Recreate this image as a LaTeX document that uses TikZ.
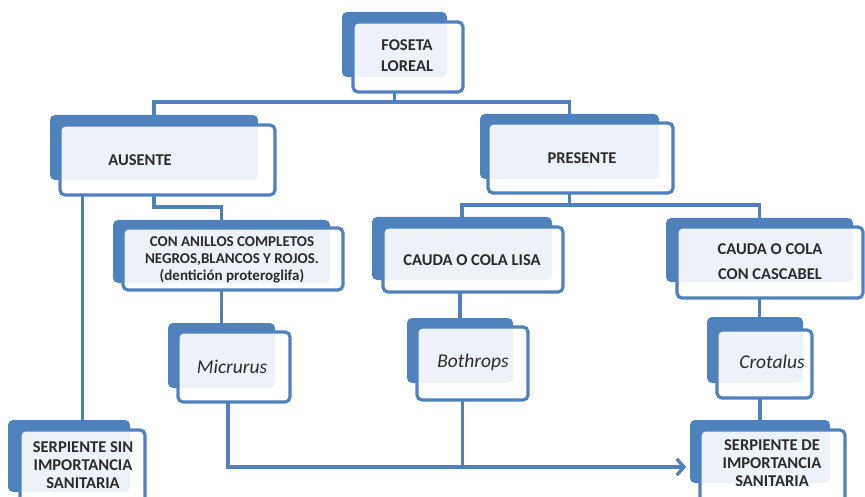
\documentclass[tikz,border=0pt]{standalone}
\usepackage{fontspec}
\setmainfont{Carlito}
\usetikzlibrary{arrows.meta,calc}
\definecolor{ofblue}{HTML}{4F81BD}
\definecolor{txtc}{HTML}{2B2B2B}
\tikzset{
 backbox/.style={fill=ofblue, rounded corners=5pt, inner sep=0pt, outer sep=0pt, anchor=north west},
 frontbox/.style={draw=ofblue, line width=3.2pt, fill=white, fill opacity=0.9, rounded corners=5pt, inner sep=0pt, outer sep=0pt, anchor=north west},
 lbl/.style={text=txtc, font=\fontsize{16.5}{18}\selectfont\bfseries, align=center, inner sep=0pt},
 itlbl/.style={text=txtc, font=\fontsize{19.5}{22}\selectfont\itshape, align=center, inner sep=0pt},
 conn/.style={draw=ofblue, line width=3.2pt},
 shadowconn/.style={draw=black!35, line width=3.2pt},
}
\newcommand{\boxpair}[9]{%
 \node[backbox, minimum width={#4pt-#2pt}, minimum height={#5pt-#3pt}] (#1B) at (#2,#3) {};
 \node[frontbox, minimum width={#8pt-#6pt}, minimum height={#9pt-#7pt}] (#1) at (#6,#7) {};
}
\begin{document}
\begin{tikzpicture}[x=1pt,y=-1pt]
\useasboundingbox (0,0) rectangle (865,497);
\clip (0,0) rectangle (865,497);
\boxpair{foseta}{342}{12}{447}{77}{353}{22}{463}{92}
\boxpair{ausente}{50}{115}{258}{180}{60}{125}{275}{195}
\boxpair{presente}{480}{114}{659}{179}{488}{123}{673}{193}
\boxpair{anillos}{113}{220}{330}{283}{123}{228}{343}{290}
\boxpair{lisa}{372}{217}{552}{280}{383}{227}{563}{292}
\boxpair{casc}{666}{218}{853}{282}{677}{227}{863}{298}
\boxpair{micr}{168}{323}{275}{388}{178}{332}{290}{402}
\boxpair{both}{407}{318}{513}{383}{417}{327}{528}{400}
\boxpair{crot}{707}{317}{803}{383}{717}{330}{812}{398}
\boxpair{sin}{8}{420}{130}{492}{20}{430}{145}{510}
\boxpair{de}{690}{420}{830}{483}{700}{430}{845}{510}

\node[lbl, font=\fontsize{16.5}{21}\selectfont\bfseries] (tfoseta) at (407,56) {FOSETA\\LOREAL};
\node[lbl] (tausente) at (140,160) {AUSENTE};
\node[lbl] (tpresente) at (582,158) {PRESENTE};
\node[lbl, font=\fontsize{15}{17}\selectfont\bfseries] (tanillos) at (232,260) {CON ANILLOS COMPLETOS\\NEGROS,BLANCOS Y ROJOS.\\(dentición proteroglifa)};
\node[lbl] (tlisa) at (472,260) {CAUDA O COLA LISA};
\node[lbl, font=\fontsize{16.5}{25}\selectfont\bfseries] (tcasc) at (770,262) {CAUDA O COLA\\CON CASCABEL};
\node[itlbl] (tmicr) at (232,367) {Micrurus};
\node[itlbl] (tboth) at (473,362) {Bothrops};
\node[itlbl] (tcrot) at (772,362) {Crotalus};
\node[lbl] (tsin) at (83,465) {SERPIENTE SIN\\IMPORTANCIA\\SANITARIA};
\node[lbl] (tde) at (772,463) {SERPIENTE DE\\IMPORTANCIA\\SANITARIA};

\draw[conn] (foseta.south -| fosetaB.center) -- ++(0,10) -| (ausenteB.north);
\draw[conn] (foseta.south -| fosetaB.center) -- ++(0,10) -| (presenteB.north);
\draw[conn] (ausente.south -| ausenteB.center) -- ++(0,12) -| (anillosB.north);
\draw[conn] (ausente.south -| sin.north) -- (sinB.north -| sin.north);
\draw[conn] (presente.south -| presenteB.center) -- ++(0,12) -| (lisaB.north);
\draw[conn] (presente.south -| presenteB.center) -- ++(0,12) -| (cascB.north);
\draw[conn] (anillos.south -| micrB.center) -- (micrB.north);
\draw[conn] (lisa.south -| bothB.center) -- (bothB.north);
\draw[conn] (casc.south -| cascB.center) -- (crotB.north -| cascB.center);
\draw[conn] (crot.south -| deB.center) -- (deB.north);

\coordinate (tip) at (686,467);
\coordinate (ms) at ([xshift=-6pt]micr.south);
\coordinate (bs) at ([xshift=-10pt]both.south);
\begin{scope}[xshift=1pt, yshift=-2pt]
\draw[shadowconn, -{Straight Barb[length=7pt,width=16pt]}] (ms |- tip) -- (tip);
\end{scope}
\draw[conn, -{Straight Barb[length=7pt,width=16pt]}] (ms) |- (tip);
\draw[conn] (bs) -- (bs |- tip);
\end{tikzpicture}
\end{document}
